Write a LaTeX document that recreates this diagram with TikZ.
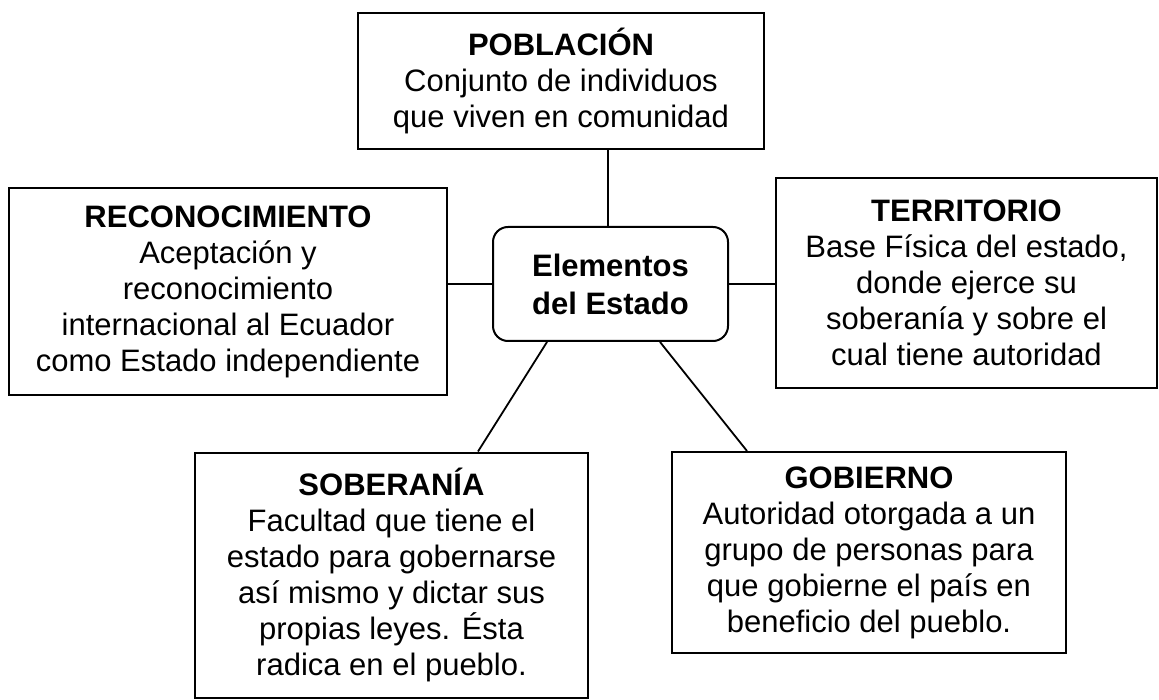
\documentclass[tikz,border=0pt]{standalone}
\usepackage{fontspec}
\setmainfont{Liberation Sans}
\begin{document}
\begin{tikzpicture}[x=1pt,y=-1pt,
  box/.style={draw,line width=2pt,rectangle,inner sep=0pt,align=center,
    font=\fontsize{31}{36}\selectfont},
  hub/.style={box,rounded corners=15pt,font=\bfseries\fontsize{31}{38}\selectfont},
  link/.style={line width=1.8pt}]
\useasboundingbox (0,0) rectangle (1159,700);
\node[box,minimum width=406pt,minimum height=136pt] (pob) at (561,81)
  {\textbf{POBLACIÓN}\\Conjunto de individuos\\que viven en comunidad};
\node[box,minimum width=438pt,minimum height=207pt] (rec) at (228,291.5)
  {\textbf{RECONOCIMIENTO}\\Aceptación y\\reconocimiento\\internacional al Ecuador\\como Estado independiente};
\node[box,minimum width=381pt,minimum height=210pt] (ter) at (966.5,283)
  {\textbf{TERRITORIO}\\Base Física del estado,\\donde ejerce su\\soberanía y sobre el\\cual tiene autoridad};
\node[hub,minimum width=235pt,minimum height=114pt] (cen) at (610.5,284)
  {Elementos\\del Estado};
\node[box,minimum width=393pt,minimum height=245pt] (sob) at (391.5,575)
  {\textbf{SOBERANÍA}\\Facultad que tiene el\\estado para gobernarse\\así mismo y dictar sus\\propias leyes. Ésta\\radica en el pueblo.};
\node[box,minimum width=394pt,minimum height=201pt] (gob) at (869,552.5)
  {\textbf{GOBIERNO}\\Autoridad otorgada a un\\grupo de personas para\\que gobierne el país en\\beneficio del pueblo.};
\draw[link] ([xshift=-2.5pt]pob.south -| cen.north) -- ([xshift=-2.5pt]cen.north);
\draw[link] (cen.west -| rec.east) -- (cen.west);
\draw[link] (cen.east) -- (cen.east -| ter.west);
\draw[link] ([xshift=55pt]cen.south west) -- ([xshift=284pt]sob.north west);
\draw[link] ([xshift=-69pt]cen.south east) -- ([xshift=76pt]gob.north west);
\end{tikzpicture}
\end{document}
